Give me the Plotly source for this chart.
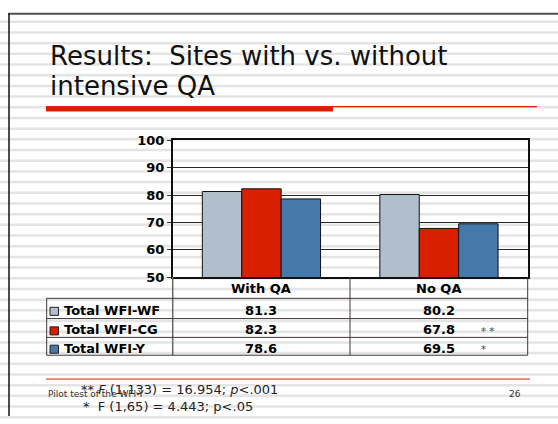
import plotly.graph_objects as go

W, H = 558, 424

# ===============================
# DATOS
# ===============================
categorias = ["With QA", "No QA"]
series = ["Total WFI-WF", "Total WFI-CG", "Total WFI-Y"]
wfi_wf = [81.3, 80.2]
wfi_cg = [82.3, 67.8]
wfi_y = [78.6, 69.5]
marcas = [["", ""], ["", "* *"], ["", "*"]]

titulo = ["Results:&nbsp; Sites with vs. without", "intensive QA"]
nota1 = "** <i>F</i> (1,133) = 16.954; <i>p</i><.001"
nota2 = "*&nbsp; F (1,65) = 4.443; p<.05"
pie = "Pilot test of the WFI-Y"
pagina = "26"

colores = ["#b1bfcc", "#d81f00", "#4479a9"]
valores = [wfi_wf, wfi_cg, wfi_y]

FONT = "DejaVu Sans"


def px(x):
    return x / W


def py(y):
    return 1 - y / H


def texto(x, y, t, size, xref="paper", xanchor="center", color="black", **kw):
    return dict(x=x, xref=xref, y=py(y), yref="paper", text=t, showarrow=False,
                xanchor=xanchor, yanchor="middle",
                font=dict(family=FONT, size=size, color=color), **kw)


fig = go.Figure()

for nombre, vals, col in zip(series, valores, colores):
    fig.add_trace(
        go.Bar(
            x=categorias,
            y=vals,
            name=nombre,
            marker=dict(color=col, line=dict(color="#111111", width=1)),
        )
    )

shapes = []

# fondo rayado de la diapositiva
for i in range(38):
    yc = 15.3 + i * 11.08
    shapes.append(dict(type="rect", xref="paper", yref="paper",
                       x0=0, x1=1, y0=py(yc + 1.3), y1=py(yc - 1.3),
                       fillcolor="#e4e4e4", line=dict(width=0), layer="below"))

# marco
shapes.append(dict(type="line", xref="paper", yref="paper",
                   x0=px(8), x1=1, y0=py(7), y1=py(7),
                   line=dict(color="#505050", width=2)))
shapes.append(dict(type="line", xref="paper", yref="paper",
                   x0=px(9), x1=px(9), y0=py(7), y1=0,
                   line=dict(color="#111111", width=1.5)))

# subrayado del titulo
shapes.append(dict(type="rect", xref="paper", yref="paper",
                   x0=px(46), x1=px(333), y0=py(108.3), y1=py(102.7),
                   fillcolor="#d81f00", line=dict(width=0)))
shapes.append(dict(type="line", xref="paper", yref="paper",
                   x0=px(333), x1=px(537), y0=py(103.2), y1=py(103.2),
                   line=dict(color="#d81f00", width=1.2)))

# linea del pie
shapes.append(dict(type="line", xref="paper", yref="paper",
                   x0=px(46), x1=px(530), y0=py(385.7), y1=py(385.7),
                   line=dict(color="#d81f00", width=1)))

# tabla de datos
x_izq, x_eje, x_mid, x_der = 46.7, 172.7, 350, 527.7
y_top, y_filas = 280, [302, 323, 342.5, 361]
tabla = "#423636"
shapes.append(dict(type="line", xref="paper", yref="paper",
                   x0=px(x_eje), x1=px(x_eje), y0=py(y_top), y1=py(y_filas[-1]),
                   line=dict(color="#666666", width=1.5)))
for xv in [x_mid, x_der]:
    shapes.append(dict(type="line", xref="paper", yref="paper",
                       x0=px(xv), x1=px(xv), y0=py(y_top), y1=py(y_filas[-1]),
                       line=dict(color=tabla, width=1)))
shapes.append(dict(type="line", xref="paper", yref="paper",
                   x0=px(x_izq), x1=px(x_izq), y0=py(y_filas[0]), y1=py(y_filas[-1]),
                   line=dict(color=tabla, width=1)))
for yv in y_filas:
    shapes.append(dict(type="line", xref="paper", yref="paper",
                       x0=px(x_izq), x1=px(x_der), y0=py(yv), y1=py(yv),
                       line=dict(color=tabla, width=1)))

annotations = []

# cabecera de la tabla
for cat in categorias:
    annotations.append(texto(cat, (y_top + y_filas[0]) / 2 + 0.5, "<b>%s</b>" % cat, 13, xref="x"))

# filas de la tabla
for i, (nombre, vals, col) in enumerate(zip(series, valores, colores)):
    yc = (y_filas[i] + y_filas[i + 1]) / 2
    shapes.append(dict(type="rect", xref="paper", yref="paper",
                       x0=px(50), x1=px(58.5), y0=py(yc + 7.2), y1=py(yc - 1.2),
                       fillcolor=col, line=dict(color="#222222", width=1)))
    annotations.append(texto(px(62), yc + 2, "<b>%s</b>" % nombre, 13, xanchor="left"))
    for cat, v, m in zip(categorias, vals, marcas[i]):
        annotations.append(texto(cat, yc + 2, "<b>{:.1f}</b>".format(v), 13, xref="x"))
        if m:
            annotations.append(texto(cat, yc + 3.5, m, 10, xref="x", xanchor="left",
                                     color="#444444", xshift=40))

# titulo
annotations.append(texto(px(48), 50.5, titulo[0], 26, xanchor="left", color="#111111"))
annotations.append(texto(px(48), 81.5, titulo[1], 26, xanchor="left", color="#111111"))

# notas al pie
annotations.append(texto(px(79), 396.7, nota1, 13, xanchor="left", color="#222222"))
annotations.append(texto(px(81), 414.5, nota2, 13, xanchor="left", color="#222222"))
annotations.append(texto(px(46), 400.7, pie, 9, xanchor="left", color="#333333"))
annotations.append(texto(px(523), 400.7, pagina, 9, xanchor="right", color="#333333"))

fig.update_layout(
    width=W,
    height=H,
    autosize=False,
    margin=dict(l=0, r=0, t=0, b=0),
    paper_bgcolor="white",
    plot_bgcolor="rgba(0,0,0,0)",
    showlegend=False,
    barmode="group",
    bargap=0.334,
    bargroupgap=0,
    xaxis=dict(
        domain=[px(x_eje), px(x_der)],
        showticklabels=False,
        ticks="",
        showgrid=False,
        showline=True,
        mirror=True,
        linecolor="#111111",
        linewidth=1.5,
    ),
    yaxis=dict(
        domain=[py(280), py(138.3)],
        range=[50, 100],
        dtick=10,
        ticks="outside",
        ticklen=4,
        tickcolor="#333333",
        showline=True,
        mirror=True,
        linecolor="#111111",
        linewidth=1.5,
        showgrid=True,
        gridcolor="#2a2a2a",
        gridwidth=1,
        zeroline=False,
        tickfont=dict(family=FONT, size=13, color="black"),
        tickprefix="<b>",
        ticksuffix="</b>",
    ),
    shapes=shapes,
    annotations=annotations,
)

fig.write_html(
    "out.html",
    config={"displayModeBar": False},
    post_script="document.body.style.margin='0';document.body.style.overflow='hidden';",
)
